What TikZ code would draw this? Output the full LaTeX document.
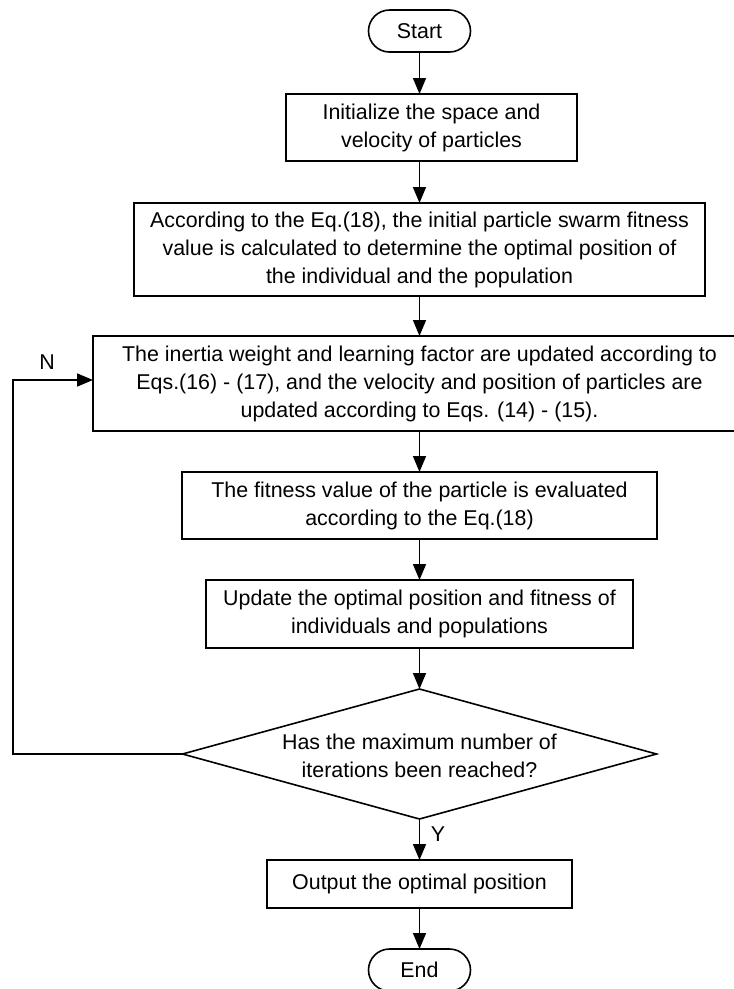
\documentclass[tikz,border=0pt]{standalone}
\usepackage{fontspec}
\setmainfont{Liberation Sans}
\usetikzlibrary{shapes.geometric,arrows.meta}
\tikzset{
  every node/.style={font=\fontsize{21.4}{28}\selectfont, inner sep=0pt, outer sep=0pt},
  box/.style={draw, line width=1.6pt, rectangle, align=center},
  term/.style={draw, line width=1.6pt, rectangle, rounded corners=21pt, minimum width=102pt, minimum height=42pt},
  dec/.style={draw, line width=1.6pt, diamond, minimum width=474pt, minimum height=130pt},
  arr/.style={line width=1.6pt, -{Triangle[length=16pt,width=13pt]}},
  lbl/.style={font=\fontsize{21.4}{26}\selectfont}
}
\begin{document}
\begin{tikzpicture}[x=1pt,y=-1pt]
\fill[white] (0,0) rectangle (734,989);
\useasboundingbox (0,0) rectangle (734,989);
\clip (0,0) rectangle (734,989);

\node[term] (start) at (419.5,31) {Start};
\node[box, minimum width=291pt, minimum height=67pt] (b1) at (431.5,127.5)
  {Initialize the space and\\velocity of particles};
\node[box, minimum width=571pt, minimum height=93pt] (b2) at (419.5,249.5)
  {According to the Eq.(18), the initial particle swarm fitness\\value is calculated to determine the optimal position of\\the individual and the population};
\node[box, minimum width=653pt, minimum height=95pt] (b3) at (419.5,383.5)
  {The inertia weight and learning factor are updated according to\\Eqs.(16) - (17), and the velocity and position of particles are\\updated according to Eqs. (14) - (15).};
\node[box, minimum width=475pt, minimum height=67pt] (b4) at (419.5,505.5)
  {The fitness value of the particle is evaluated\\according to the Eq.(18)};
\node[box, minimum width=427pt, minimum height=68pt] (b5) at (419.5,614)
  {Update the optimal position and fitness of\\individuals and populations};
\node[dec] (dia) at (419.5,754) {};
\node[align=center] (diatext) at (419.5,756) {Has the maximum number of\\iterations been reached?};
\node[box, minimum width=305pt, minimum height=48pt] (b6) at (419.5,884)
  {Output the optimal position};
\node[term] (end) at (419.5,970) {End};

\coordinate (lx) at (13,0);
\node[lbl] (nlab) at (47,362) {N};
\node[lbl] (ylab) at (438,834) {Y};

\draw[arr] (start) -- (start |- b1.north);
\draw[arr] (start |- b1.south) -- (b2.north);
\draw[arr] (b2) -- (b3);
\draw[arr] (b3) -- (b4);
\draw[arr] (b4) -- (b5);
\draw[arr] (b5) -- (dia);
\draw[arr] (dia) -- (b6);
\draw[arr] (b6) -- (end);
\draw[arr] (dia.west) -- (dia.west -| lx) |- ([yshift=3.5pt]b3.west);
\end{tikzpicture}
\end{document}
